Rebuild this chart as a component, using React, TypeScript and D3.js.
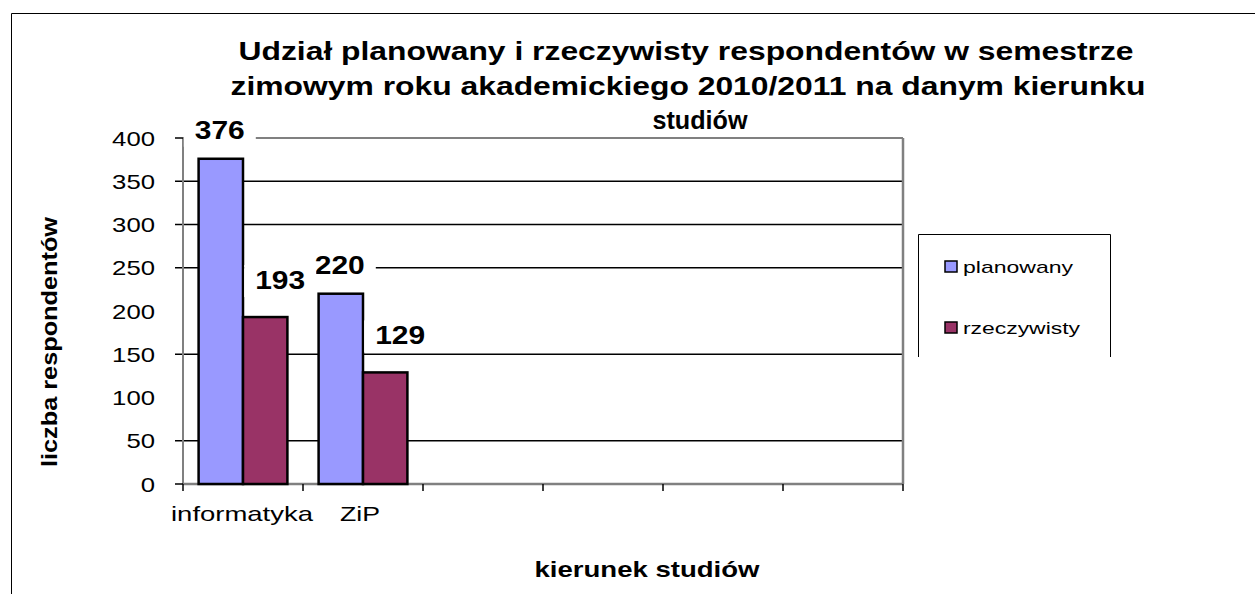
import React from "react";
import * as d3 from "d3";

const categories = ["informatyka", "ZiP", "", "", "", ""];
const seriesNames = ["planowany", "rzeczywisty"];
const planowany = [376, 220];
const rzeczywisty = [193, 129];
const yTicks = [0, 50, 100, 150, 200, 250, 300, 350, 400];
const gridValues = [50, 150, 250, 300, 350];
const titleLines = [
  "Udział planowany i rzeczywisty respondentów w semestrze",
  "zimowym roku akademickiego 2010/2011 na danym kierunku",
  "studiów",
];
const colors = ["#9999FF", "#993366"];

const W = 1255;
const H = 594;
const plot = { left: 183, right: 903, top: 138, bottom: 484 };
const FONT = "'Liberation Sans', Arial, sans-serif";

export default function App() {
  const x = d3
    .scaleBand<string>()
    .domain(categories.map((c, i) => i + ":" + c))
    .range([plot.left, plot.right])
    .paddingInner(0)
    .paddingOuter(0);
  const y = d3.scaleLinear().domain([0, 400]).range([plot.bottom, plot.top]);
  const bw = x.bandwidth();
  const groupW = bw * 0.74;
  const inner = d3
    .scaleBand<string>()
    .domain(seriesNames)
    .range([(bw - groupW) / 2, (bw + groupW) / 2])
    .padding(0);

  const series = [planowany, rzeczywisty];
  const labelOffsets = [
    { dx: -1, dy: -20 },
    { dx: 15, dy: -28 },
  ];
  const titleX = [686, 688, 700];
  const titleLen = [895, 915, 95];
  const titleY = [60, 95, 129];

  const bars: any[] = [];
  const labels: any[] = [];
  series.forEach((vals, si) => {
    vals.forEach((v, ci) => {
      const key = ci + ":" + categories[ci];
      const bx = (x(key) as number) + (inner(seriesNames[si]) as number);
      const w = inner.bandwidth();
      bars.push(
        <rect
          key={`b${si}-${ci}`}
          x={bx}
          y={y(v)}
          width={w}
          height={y(0) - y(v)}
          fill={colors[si]}
          stroke="#000"
          strokeWidth={2.5}
        />
      );
      const cx = bx + w / 2 + labelOffsets[si].dx;
      const by = y(v) + labelOffsets[si].dy;
      labels.push(
        <g key={`l${si}-${ci}`}>
          <rect x={cx - 36} y={by - 24} width={72} height={32} fill="#fff" />
          <text
            x={cx}
            y={by}
            textAnchor="middle"
            fontFamily={FONT}
            fontWeight="bold"
            fontSize={26}
            textLength={50}
            lengthAdjust="spacingAndGlyphs"
            fill="#000"
          >
            {v}
          </text>
        </g>
      );
    });
  });

  return (
    <svg
      width={W}
      height={H}
      style={{ position: "absolute", left: 0, top: 0, background: "#fff" }}
    >
      <rect x={0} y={0} width={W} height={H} fill="#fff" />
      {/* outer frame */}
      <line x1={11.5} y1={13.5} x2={W} y2={13.5} stroke="#000" strokeWidth={1} />
      <line x1={11.5} y1={13.5} x2={11.5} y2={H} stroke="#000" strokeWidth={1} />

      {/* title */}
      {titleLines.map((t, i) => (
        <text
          key={t}
          x={titleX[i]}
          y={titleY[i]}
          textAnchor="middle"
          fontFamily={FONT}
          fontWeight="bold"
          fontSize={25}
          textLength={titleLen[i]}
          lengthAdjust="spacingAndGlyphs"
          fill="#000"
        >
          {t}
        </text>
      ))}

      {/* gridlines */}
      {gridValues.map((g) => (
        <line
          key={g}
          x1={plot.left - 8}
          x2={plot.right}
          y1={y(g)}
          y2={y(g)}
          stroke="#000"
          strokeWidth={1.6}
        />
      ))}
      {/* plot border */}
      <line x1={plot.left} x2={plot.right} y1={plot.top} y2={plot.top} stroke="#808080" strokeWidth={2} />
      <line x1={plot.right} x2={plot.right} y1={plot.top} y2={plot.bottom} stroke="#808080" strokeWidth={2.5} />
      <line x1={plot.left} x2={plot.left} y1={plot.top} y2={plot.bottom} stroke="#808080" strokeWidth={2} />
      <line x1={plot.left} x2={plot.right} y1={plot.bottom} y2={plot.bottom} stroke="#808080" strokeWidth={2.5} />
      {/* y ticks at 0 and 400 */}
      {[0, 400].map((t) => (
        <line key={t} x1={plot.left - 8} x2={plot.left} y1={y(t)} y2={y(t)} stroke="#000" strokeWidth={1.5} />
      ))}
      {/* x ticks */}
      {d3.range(categories.length + 1).map((i) => {
        const tx = plot.left + i * bw;
        return <line key={i} x1={tx} x2={tx} y1={plot.bottom} y2={plot.bottom + 7} stroke="#000" strokeWidth={1.5} />;
      })}

      {bars}
      {labels}

      {/* y tick labels */}
      {yTicks.map((t) => (
        <text
          key={t}
          x={155}
          y={y(t) + 7.5}
          textAnchor="end"
          fontFamily={FONT}
          fontSize={21}
          textLength={String(t).length * 14.3}
          lengthAdjust="spacingAndGlyphs"
          fill="#000"
        >
          {t}
        </text>
      ))}

      {/* x labels */}
      {categories.map((c, i) =>
        c ? (
          <text
            key={c}
            x={(x(i + ":" + c) as number) + bw / 2 - (i === 0 ? 1 : 3)}
            y={521}
            textAnchor="middle"
            fontFamily={FONT}
            fontSize={21}
            textLength={c.length > 3 ? 142 : 40}
            lengthAdjust="spacingAndGlyphs"
            fill="#000"
          >
            {c}
          </text>
        ) : null
      )}

      {/* axis titles */}
      <text
        x={647}
        y={577}
        textAnchor="middle"
        fontFamily={FONT}
        fontWeight="bold"
        fontSize={22}
        textLength={225}
        lengthAdjust="spacingAndGlyphs"
        fill="#000"
      >
        kierunek studiów
      </text>
      <text
        transform="translate(57,342) rotate(-90)"
        textAnchor="middle"
        fontFamily={FONT}
        fontWeight="bold"
        fontSize={22}
        textLength={250}
        lengthAdjust="spacingAndGlyphs"
        fill="#000"
      >
        liczba respondentów
      </text>

      {/* legend */}
      <path d="M918.5,357 L918.5,234.5 L1110.5,234.5 L1110.5,357" fill="none" stroke="#000" strokeWidth={1} />
      {seriesNames.map((s, i) => (
        <g key={s}>
          <rect
            x={945}
            y={261 + i * 61}
            width={12}
            height={11}
            fill={colors[i]}
            stroke="#000"
            strokeWidth={1.5}
          />
          <text
            x={963}
            y={273 + i * 61}
            fontFamily={FONT}
            fontSize={17}
            textLength={i === 0 ? 110 : 117}
            lengthAdjust="spacingAndGlyphs"
            fill="#000"
          >
            {s}
          </text>
        </g>
      ))}
    </svg>
  );
}
